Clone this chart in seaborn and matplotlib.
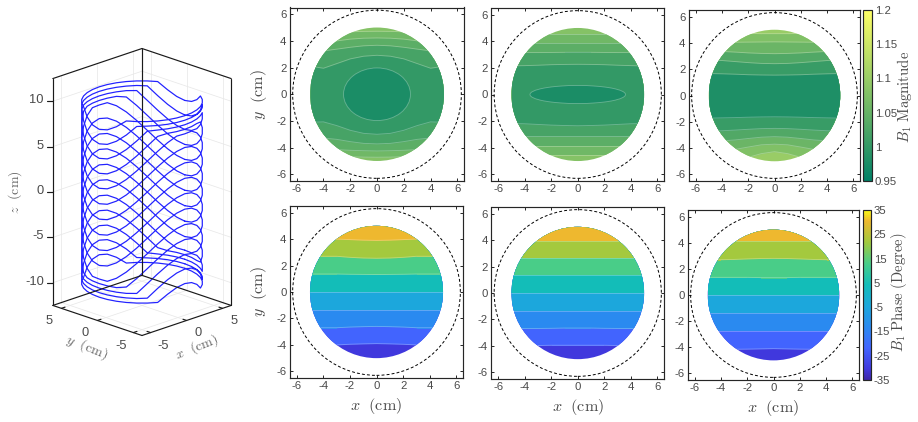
import numpy as np
import matplotlib
matplotlib.use("Agg")
import matplotlib.pyplot as plt
from matplotlib import patches
from matplotlib.colors import LinearSegmentedColormap, Normalize
from matplotlib.cm import ScalarMappable
from mpl_toolkits.mplot3d import proj3d
import seaborn as sns

# ---- coil geometry -------------------------------------------------------
coil_radius = 5.95
theta_deg = [0, 10, 20, 30, 40, 50, 60, 70, 80, 90, 100, 110, 120, 130, 140, 150, 160, 170]
saddle_cm = [-3.1, -2.91, -2.37, -1.55, -0.54, 0.54, 1.55, 2.37, 2.91, 3.1,
             2.91, 2.37, 1.55, 0.54, -0.54, -1.55, -2.37, -2.91]
ring_centers = [11.6, 10.0, 8.4, 6.75, 5.1, 3.4, 1.7, 0.0, -1.7, -3.4, -5.1, -6.75, -8.4, -10.0, -11.6]
ring_caps = [10.0, 9.5, 9.0, 8.5, 8.0, 20, 20, 20, 20, 20, 8.0, 8.5, 9.0, 9.5, 10.0]

xy_ticks = [-5, 0, 5]
z_ticks = [-10, -5, 0, 5, 10]
xy_limit = 6.2
z_limit = 12.5

# ---- field maps: contour heights y(cm) at |x| stations --------------------
x_half = [0, 1, 2, 3, 4, 5]

mag1_upper = [[2.92, 2.85, 2.65, 2.3, 1.95, 2.1], [3.67, 3.63, 3.52, 3.38, 3.25, 3.2],
              [4.22, 4.2, 4.13, 4.0, 3.9, 3.85], [4.72, 4.71, 4.68, 4.6, 4.6, 4.6]]
mag1_lower = [[-3.0, -2.93, -2.7, -2.35, -2.07, -2.1], [-3.72, -3.68, -3.55, -3.38, -3.28, -3.2],
              [-4.25, -4.23, -4.2, -4.15, -4.1, -4.1], [-4.72, -4.71, -4.68, -4.6, -4.6, -4.6]]
mag1_core = (2.5, 1.97)
mag1_levels = [1.0, 1.02, 1.04, 1.06, 1.08]

mag2_upper = [[2.27, 2.26, 2.24, 2.2, 2.17, 2.15], [3.17, 3.17, 3.16, 3.15, 3.15, 3.15],
              [3.9, 3.9, 3.9, 3.9, 3.9, 3.9], [4.52, 4.52, 4.52, 4.52, 4.52, 4.52]]
mag2_lower = [[-2.35, -2.33, -2.3, -2.25, -2.2, -2.18], [-3.15, -3.15, -3.15, -3.15, -3.15, -3.15],
              [-3.9, -3.9, -3.9, -3.9, -3.9, -3.9], [-4.55, -4.55, -4.55, -4.55, -4.55, -4.55]]
mag2_core = (3.6, 0.68)
mag2_levels = [1.0, 1.02, 1.04, 1.06, 1.08]

mag3_upper = [[1.55, 1.56, 1.58, 1.62, 1.65, 1.67], [2.42, 2.44, 2.5, 2.58, 2.66, 2.7],
              [3.18, 3.2, 3.24, 3.3, 3.35, 3.4], [4.08, 4.07, 4.06, 4.05, 4.0, 4.0],
              [4.7, 4.7, 4.72, 4.72, 4.72, 4.72]]
mag3_lower = [[-1.62, -1.63, -1.65, -1.68, -1.7, -1.72], [-2.5, -2.52, -2.57, -2.63, -2.68, -2.7],
              [-3.13, -3.17, -3.27, -3.38, -3.45, -3.5], [-3.7, -3.75, -3.92, -4.1, -4.2, -4.2],
              [-4.27, -4.42, -4.7, -4.9, -4.9, -4.9]]
mag3_levels = [0.98, 1.005, 1.03, 1.055, 1.075, 1.1]
core_level = 0.977

phase1_edges = [[-3.9, -3.92, -3.95, -4.0, -4.0, -4.0], [-2.6, -2.62, -2.65, -2.7, -2.7, -2.7],
                [-1.33, -1.33, -1.33, -1.33, -1.33, -1.33], [0, 0, 0, 0, 0, 0],
                [1.32, 1.33, 1.34, 1.36, 1.36, 1.36], [2.55, 2.57, 2.62, 2.7, 2.7, 2.7],
                [3.9, 3.92, 3.96, 4.0, 4.0, 4.0]]
phase2_edges = [[-3.95, -3.95, -3.95, -3.97, -3.97, -3.97], [-2.65, -2.65, -2.67, -2.68, -2.68, -2.68],
                [-1.33, -1.33, -1.33, -1.33, -1.33, -1.33], [0, 0, 0, 0, 0, 0],
                [1.33, 1.33, 1.33, 1.33, 1.33, 1.33], [2.65, 2.65, 2.65, 2.65, 2.65, 2.65],
                [3.95, 3.95, 3.95, 3.95, 3.95, 3.95]]
phase3_edges = [[-4.1, -4.12, -4.14, -4.15, -4.15, -4.15], [-2.75, -2.75, -2.75, -2.75, -2.75, -2.75],
                [-1.37, -1.37, -1.37, -1.37, -1.37, -1.37], [0, 0, 0, 0, 0, 0],
                [1.33, 1.33, 1.35, 1.35, 1.35, 1.35], [2.8, 2.79, 2.76, 2.72, 2.7, 2.7],
                [4.1, 4.1, 4.1, 4.1, 4.1, 4.1]]
phase_band_values = [-30.6, -21.9, -13.1, -4.4, 4.4, 13.1, 21.9, 30.6]

grid_ticks = [-6, -4, -2, 0, 2, 4, 6]
mag_ticks = [0.95, 1, 1.05, 1.1, 1.15, 1.2]
mag_tick_labels = ["0.95", "1", "1.05", "1.1", "1.15", "1.2"]
phase_ticks = [-35, -25, -15, -5, 5, 15, 25, 35]

# ---- style ---------------------------------------------------------------
sns.set_theme(style="white")
plt.rcParams["font.family"] = ["Liberation Sans", "DejaVu Sans"]
plt.rcParams["mathtext.fontset"] = "cm"
plt.rcParams["axes.unicode_minus"] = False

W, H = 918, 422
INK = "#262626"
TEXT = "#4a4a4a"
fig = plt.figure(figsize=(W / 100, H / 100), dpi=100, facecolor="white")


def rect(left, top, right, bottom):
    return [left / W, 1 - bottom / H, (right - left) / W, (bottom - top) / H]


summer = sns.color_palette("summer", as_cmap=True)
parula = LinearSegmentedColormap.from_list("parula_like", [
    (0.0, "#3E26A8"), (0.0625, "#4038DD"), (0.1875, "#4265FF"), (0.3125, "#2A8AF0"),
    (0.4375, "#1CA8DC"), (0.5625, "#12BDB9"), (0.6875, "#4ACD88"), (0.8125, "#A2C93E"),
    (0.9375, "#EEB82F"), (1.0, "#F9FB15")], N=256)
mag_norm = Normalize(0.95, 1.2)
phase_norm = Normalize(-35, 35)

x_full = np.array([-v for v in x_half[:0:-1]] + x_half, dtype=float)


def mirrored(values):
    return np.array(values[:0:-1] + values, dtype=float)


def style_map(ax, xlabel=False, ylabel=False):
    ax.set_xlim(-6.5, 6.5)
    ax.set_ylim(-6.5, 6.5)
    ax.set_xticks(grid_ticks)
    ax.set_yticks(grid_ticks)
    ax.tick_params(direction="in", length=2.2, width=0.7, top=True, right=True, bottom=True, left=True,
                   labelsize=8.2, labelcolor=TEXT, color=INK, pad=2.5)
    ax.set_xlabel(r"$x\ \ \mathrm{(cm)}$" if xlabel else "", fontsize=11.6, color=TEXT, labelpad=3.5)
    ax.set_ylabel(r"$y\ \ \mathrm{(cm)}$" if ylabel else "", fontsize=11.6, color=TEXT, labelpad=5)
    for spine in ax.spines.values():
        spine.set_color(INK)
        spine.set_linewidth(0.85)
    ax.add_patch(patches.Circle((0, 0), 6.3, fill=False, ec="black", lw=0.7, ls=(0, (3.0, 2.2)), zorder=5))


def isoline(ax, curve, clip):
    line_ax = sns.lineplot(x=x_full, y=mirrored(curve), ax=ax, estimator=None, color="white", alpha=0.28,
                           lw=0.65, zorder=3, legend=False)
    line_ax.lines[-1].set_clip_path(clip)


def magnitude_map(ax, upper, lower, levels, core=None):
    disk = patches.Circle((0, 0), 5.0, transform=ax.transData)
    band = ax.fill_between([-6, 6], -6, 6, color=summer(mag_norm(levels[len(upper)])), lw=0, zorder=1)
    band.set_clip_path(disk)
    for i in range(len(upper) - 1, -1, -1):
        band = ax.fill_between(x_full, mirrored(lower[i]), mirrored(upper[i]),
                               color=summer(mag_norm(levels[i])), lw=0, zorder=1)
        band.set_clip_path(disk)
        isoline(ax, upper[i], disk)
        isoline(ax, lower[i], disk)
    if core is not None:
        ax.add_patch(patches.Ellipse((0, 0), 2 * core[0], 2 * core[1], fc=summer(mag_norm(core_level)),
                                     ec=(1, 1, 1, 0.28), lw=0.65, zorder=2))


def phase_map(ax, edges):
    disk = patches.Circle((0, 0), 5.0, transform=ax.transData)
    band = ax.fill_between([-6, 6], -6, 6, color=parula(phase_norm(phase_band_values[0])), lw=0, zorder=1)
    band.set_clip_path(disk)
    for edge, level in zip(edges, phase_band_values[1:]):
        band = ax.fill_between(x_full, mirrored(edge), 6, color=parula(phase_norm(level)), lw=0, zorder=1)
        band.set_clip_path(disk)
    for edge in edges:
        isoline(ax, edge, disk)


# ---- field panels --------------------------------------------------------
ax1 = fig.add_axes(rect(290, 7.5, 464, 181))
magnitude_map(ax1, mag1_upper, mag1_lower, mag1_levels, mag1_core)
style_map(ax1, ylabel=True)
ax2 = fig.add_axes(rect(491.5, 8, 664, 181))
magnitude_map(ax2, mag2_upper, mag2_lower, mag2_levels, mag2_core)
style_map(ax2)
ax3 = fig.add_axes(rect(689, 10, 860, 181))
magnitude_map(ax3, mag3_upper, mag3_lower, mag3_levels)
style_map(ax3)

ax4 = fig.add_axes(rect(290, 206, 463, 378))
phase_map(ax4, phase1_edges)
style_map(ax4, xlabel=True, ylabel=True)
ax5 = fig.add_axes(rect(491.5, 207, 664, 379))
phase_map(ax5, phase2_edges)
style_map(ax5, xlabel=True)
ax6 = fig.add_axes(rect(688, 210, 859, 380))
phase_map(ax6, phase3_edges)
style_map(ax6, xlabel=True)


def colorbar(bounds, cmap, norm, ticks, labels, title, title_xy):
    cax = fig.add_axes(rect(*bounds))
    bar = fig.colorbar(ScalarMappable(norm=norm, cmap=cmap), cax=cax)
    bar.set_ticks(ticks, labels=labels)
    cax.tick_params(direction="in", length=2.2, width=0.7, labelsize=8.2, labelcolor=TEXT, color=INK, pad=2)
    bar.outline.set_edgecolor(INK)
    bar.outline.set_linewidth(0.85)
    fig.text(title_xy[0] / W, 1 - title_xy[1] / H, title, rotation=90, ha="center", va="center",
             fontsize=10.6, color=TEXT)


colorbar((863, 10, 872, 181), summer, mag_norm, mag_ticks, mag_tick_labels,
         r"$B_1\ \mathrm{Magnitude}$", (905, 97))
colorbar((862.5, 210, 871, 380), parula, phase_norm, phase_ticks, [str(t) for t in phase_ticks],
         r"$B_1\ \mathrm{Phase\ (Degree)}$", (899, 292))

# ---- coil view -----------------------------------------------------------
side = 340
ax3d = fig.add_axes(rect(137.4 - side / 2, 196.6 - side / 2, 137.4 + side / 2, 196.6 + side / 2),
                    projection="3d", proj_type="ortho", computed_zorder=False)
ax3d.set_zorder(-1)
ax3d.patch.set_alpha(0)
ax3d.set_axis_off()
ax3d.view_init(elev=19.7, azim=-135)
ax3d.set_xlim(-xy_limit, xy_limit)
ax3d.set_ylim(-xy_limit, xy_limit)
ax3d.set_zlim(-z_limit, z_limit)
xy_span = 2 * xy_limit * 10.2
z_span = 2 * z_limit * 9.1 / np.cos(np.radians(19.7))
ax3d.set_box_aspect((xy_span, xy_span, z_span), zoom=0.856)
L, Z = xy_limit, z_limit


def seg(p, q, **kw):
    ax3d.plot([p[0], q[0]], [p[1], q[1]], [p[2], q[2]], **kw)


grid_kw = dict(color="#e8e8e8", lw=0.55, zorder=1)
for t in xy_ticks:
    seg((t, L, -Z), (t, L, Z), **grid_kw)
    seg((L, t, -Z), (L, t, Z), **grid_kw)
    seg((t, -L, -Z), (t, L, -Z), **grid_kw)
    seg((-L, t, -Z), (L, t, -Z), **grid_kw)
for t in z_ticks:
    seg((-L, L, t), (L, L, t), **grid_kw)
    seg((L, -L, t), (L, L, t), **grid_kw)

angles = np.radians(theta_deg * 2 + theta_deg[:1]) + np.concatenate([np.zeros(18), np.full(18, np.pi), [2 * np.pi]])
saddle = np.array(saddle_cm * 2 + saddle_cm[:1])
for center, cap in zip(ring_centers, ring_caps):
    z = center + saddle
    z = np.minimum(z, cap) if center > 0 else np.maximum(z, -cap)
    ax3d.plot(coil_radius * np.cos(angles), coil_radius * np.sin(angles), z, color="#2222FF", lw=0.88, zorder=2)

box_kw = dict(color="#1a1a1a", lw=0.85, zorder=3)
for p, q in [((-L, L, Z), (L, L, Z)), ((L, L, Z), (L, -L, Z)), ((-L, L, -Z), (L, L, -Z)), ((L, L, -Z), (L, -L, -Z)),
             ((-L, L, -Z), (-L, -L, -Z)), ((-L, -L, -Z), (L, -L, -Z)), ((-L, L, -Z), (-L, L, Z)),
             ((L, -L, -Z), (L, -L, Z)), ((L, L, -Z), (L, L, Z))]:
    seg(p, q, **box_kw)


def to2d(x, y, z):
    px, py, _ = proj3d.proj_transform(x, y, z, ax3d.get_proj())
    return px, py


def label3d(text, point, offset, ha="center"):
    ax3d.annotate(text, to2d(*point), xytext=offset, textcoords="offset pixels", ha=ha, va="center",
                  fontsize=9.3, color=TEXT, annotation_clip=False)


for t in xy_ticks:
    seg((t, -L, -Z), (t, -L + 0.5, -Z), **box_kw)
    seg((-L, t, -Z), (-L + 0.5, t, -Z), **box_kw)
    label3d(str(t), (t, -L, -Z), (12, -13))
    label3d(str(t), (-L, t, -Z), (-12, -13))
for t in z_ticks:
    seg((-L, L, t), (-L - 0.4, L + 0.4, t), **box_kw)
    label3d(str(t), (-L, L, t), (-9, 1), ha="right")

fig.text(15 / W, 1 - 192 / H, r"$z\ \ \mathrm{(cm)}$", rotation=90, ha="center", va="center", fontsize=10, color="#666666")
fig.text(87 / W, 1 - 347 / H, r"$y\ \ \mathrm{(cm)}$", rotation=-22, ha="center", va="center", fontsize=10, color="#666666")
fig.text(197 / W, 1 - 347 / H, r"$x\ \ \mathrm{(cm)}$", rotation=22, ha="center", va="center", fontsize=10, color="#666666")

fig.savefig("out.png", dpi=100)
